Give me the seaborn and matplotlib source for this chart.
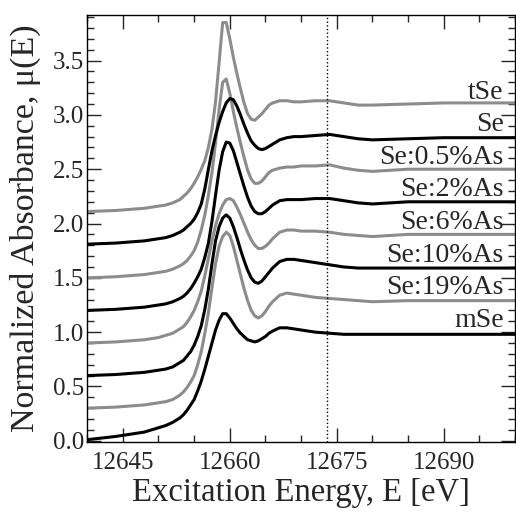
import matplotlib
matplotlib.use('Agg')
import matplotlib.pyplot as plt
import numpy as np
import pandas as pd
import seaborn as sns
from matplotlib.ticker import MultipleLocator

# energy grid (eV) shared by all spectra
energy = [12640, 12642, 12644, 12646, 12648, 12650, 12651, 12652, 12653, 12653.5,
          12654, 12654.5, 12655, 12655.5, 12656, 12656.5, 12657, 12657.5, 12658, 12658.5,
          12659, 12659.5, 12660, 12660.5, 12661, 12661.5, 12662, 12662.5, 12663, 12663.5,
          12664, 12664.5, 12665, 12665.5, 12666, 12667, 12668, 12669, 12670, 12672,
          12674, 12676, 12678, 12680, 12685, 12690, 12700]

# normalized spectra (before vertical offset)
mu_mSe = [0.01, 0.025, 0.04, 0.06, 0.08, 0.12, 0.14, 0.17, 0.21, 0.24,
          0.28, 0.33, 0.38, 0.46, 0.55, 0.66, 0.78, 0.90, 1.02, 1.11,
          1.17, 1.17, 1.13, 1.08, 1.03, 0.99, 0.96, 0.93, 0.92, 0.91,
          0.92, 0.94, 0.96, 0.99, 1.01, 1.04, 1.04, 1.03, 1.02, 1.00,
          0.99, 0.98, 0.98, 0.98, 0.98, 0.98, 0.98]
mu_19As = [0.00, 0.005, 0.01, 0.02, 0.03, 0.05, 0.06, 0.08, 0.12, 0.15,
           0.19, 0.24, 0.30, 0.40, 0.52, 0.69, 0.88, 1.11, 1.33, 1.49,
           1.58, 1.62, 1.59, 1.49, 1.36, 1.23, 1.10, 0.99, 0.90, 0.85,
           0.83, 0.85, 0.89, 0.94, 0.98, 1.04, 1.06, 1.05, 1.04, 1.02,
           1.01, 1.00, 0.99, 0.98, 0.99, 0.99, 0.99]
mu_10As = [0.00, 0.005, 0.01, 0.02, 0.03, 0.05, 0.06, 0.08, 0.12, 0.14,
           0.18, 0.22, 0.28, 0.36, 0.46, 0.61, 0.80, 1.03, 1.24, 1.37,
           1.45, 1.48, 1.45, 1.37, 1.27, 1.16, 1.06, 0.97, 0.90, 0.86,
           0.85, 0.87, 0.91, 0.95, 0.99, 1.05, 1.07, 1.07, 1.06, 1.04,
           1.02, 1.00, 0.99, 0.99, 0.99, 0.99, 0.99]
mu_6As = [0.00, 0.005, 0.01, 0.02, 0.03, 0.05, 0.07, 0.09, 0.13, 0.15,
          0.19, 0.24, 0.30, 0.38, 0.48, 0.62, 0.78, 0.94, 1.08, 1.19,
          1.27, 1.32, 1.33, 1.31, 1.25, 1.18, 1.10, 1.02, 0.95, 0.90,
          0.87, 0.87, 0.89, 0.92, 0.96, 1.02, 1.04, 1.04, 1.03, 1.03,
          1.02, 1.00, 0.99, 0.98, 1.00, 1.00, 1.00]
mu_2As = [0.00, 0.005, 0.01, 0.02, 0.03, 0.05, 0.06, 0.08, 0.11, 0.13,
          0.16, 0.20, 0.25, 0.31, 0.38, 0.49, 0.62, 0.82, 1.06, 1.29,
          1.46, 1.55, 1.54, 1.47, 1.36, 1.25, 1.14, 1.04, 0.96, 0.91,
          0.89, 0.89, 0.91, 0.94, 0.97, 1.01, 1.02, 1.02, 1.02, 1.03,
          1.03, 1.01, 0.99, 0.98, 1.00, 1.00, 1.00]
mu_05As = [0.00, 0.005, 0.01, 0.02, 0.03, 0.05, 0.06, 0.08, 0.11, 0.13,
           0.16, 0.20, 0.25, 0.33, 0.44, 0.58, 0.76, 0.97, 1.24, 1.55,
           1.80, 1.83, 1.70, 1.53, 1.38, 1.24, 1.11, 0.99, 0.91, 0.87,
           0.87, 0.89, 0.93, 0.97, 0.99, 1.01, 1.02, 1.02, 1.03, 1.03,
           1.04, 1.01, 0.99, 0.98, 1.00, 1.00, 1.00]
mu_Se = [0.01, 0.015, 0.02, 0.03, 0.04, 0.06, 0.07, 0.09, 0.12, 0.14,
         0.17, 0.20, 0.24, 0.30, 0.38, 0.52, 0.70, 0.87, 1.01, 1.13,
         1.23, 1.31, 1.35, 1.34, 1.28, 1.20, 1.11, 1.03, 0.96, 0.92,
         0.89, 0.88, 0.89, 0.91, 0.93, 0.97, 0.99, 1.00, 1.00, 1.01,
         1.02, 1.00, 0.98, 0.97, 0.98, 0.99, 0.99]
mu_tSe = [0.01, 0.015, 0.02, 0.03, 0.04, 0.06, 0.07, 0.09, 0.12, 0.15,
          0.18, 0.22, 0.27, 0.33, 0.40, 0.48, 0.60, 0.77, 1.02, 1.38,
          1.75, 1.75, 1.60, 1.43, 1.28, 1.14, 1.01, 0.91, 0.86, 0.85,
          0.88, 0.91, 0.95, 0.99, 1.01, 1.03, 1.03, 1.02, 1.02, 1.03,
          1.03, 1.01, 0.99, 0.99, 1.00, 1.01, 1.01]

samples = ['mSe', 'Se:19%As', 'Se:10%As', 'Se:6%As', 'Se:2%As', 'Se:0.5%As', 'Se', 'tSe']
spectra = [mu_mSe, mu_19As, mu_10As, mu_6As, mu_2As, mu_05As, mu_Se, mu_tSe]
offsets = [0.0, 0.3, 0.6, 0.9, 1.2, 1.5, 1.8, 2.1]
line_colors = ['black', '#8c8c8c', 'black', '#8c8c8c', 'black', '#8c8c8c', 'black', '#8c8c8c']
edge_marker = 12673.7

# long-form table for seaborn
rows = []
for name, mu, off in zip(samples, spectra, offsets):
    assert len(mu) == len(energy), name
    for e, v in zip(energy, mu):
        rows.append({'energy': e, 'mu': v + off, 'sample': name})
df = pd.DataFrame(rows)

sns.set_style('ticks')
plt.rcParams['font.family'] = ['Liberation Serif', 'DejaVu Serif']

fig = plt.figure(figsize=(5.16, 5.15), dpi=100)
ax = fig.add_axes([0.169, 0.142, 0.829, 0.829])

sns.lineplot(data=df, x='energy', y='mu', hue='sample', hue_order=samples,
             palette=dict(zip(samples, line_colors)), linewidth=2.2,
             estimator=None, legend=False, ax=ax,
             solid_joinstyle='round', solid_capstyle='round')

ax.axvline(edge_marker, color='black', linestyle=':', linewidth=1)

for name, off in zip(samples, offsets):
    ax.text(12698.4, off + 1.05, name, ha='right', va='baseline', fontsize=20)

ax.set_xlim(12640, 12700)
ax.set_ylim(-0.01, 3.92)
ax.xaxis.set_major_locator(MultipleLocator(15))
ax.xaxis.set_minor_locator(MultipleLocator(5))
ax.yaxis.set_major_locator(MultipleLocator(0.5))
ax.yaxis.set_minor_locator(MultipleLocator(0.1))
ax.set_xticks([12645, 12660, 12675, 12690])
ax.tick_params(which='both', direction='in', top=True, right=True, width=1, labelsize=18)
ax.tick_params(which='major', length=10)
ax.tick_params(which='minor', length=5)
ax.tick_params(axis='y', pad=2)
ax.tick_params(axis='x', pad=7)
for s in ax.spines.values():
    s.set_linewidth(1)
    s.set_color('black')

ax.set_xlabel('Excitation Energy, E [eV]', fontsize=23.5, labelpad=3)
ax.set_ylabel('Normalized Absorbance, μ(E)', fontsize=24.5, labelpad=9)

fig.savefig('out.png', dpi=100)
